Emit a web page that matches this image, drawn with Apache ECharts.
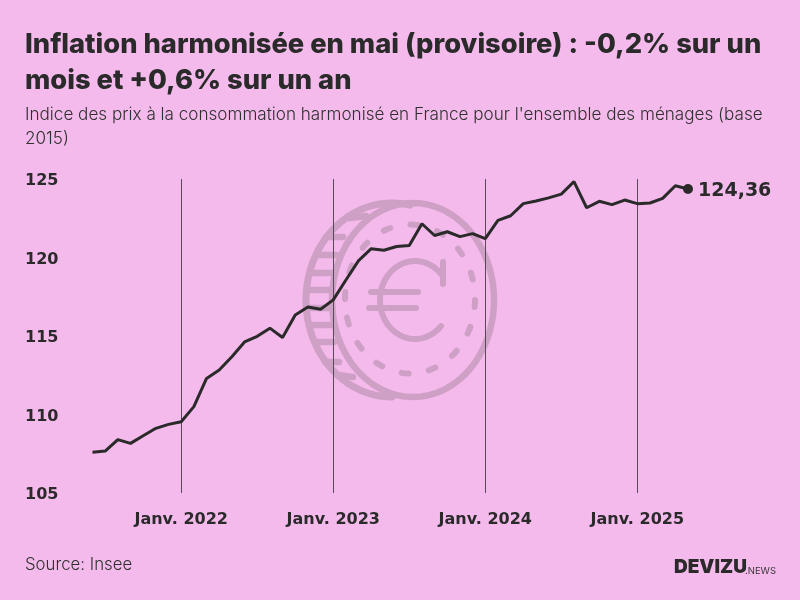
<!DOCTYPE html>
<html>
<head>
    <meta charset="UTF-8">
    <title>Inflation harmonisée</title>
    <script src="https://cdn.jsdelivr.net/npm/echarts@6/dist/echarts.min.js"></script>
    <style>
        html, body { margin: 0; padding: 0; background: #f4baec; }
        #main { width: 800px; height: 600px; }
    </style>
</head>
<body>
    <div id="main"></div>
    <script type="text/javascript">
        var months = [
            '2021-06', '2021-07', '2021-08', '2021-09', '2021-10', '2021-11', '2021-12',
            '2022-01', '2022-02', '2022-03', '2022-04', '2022-05', '2022-06',
            '2022-07', '2022-08', '2022-09', '2022-10', '2022-11', '2022-12',
            '2023-01', '2023-02', '2023-03', '2023-04', '2023-05', '2023-06',
            '2023-07', '2023-08', '2023-09', '2023-10', '2023-11', '2023-12',
            '2024-01', '2024-02', '2024-03', '2024-04', '2024-05', '2024-06',
            '2024-07', '2024-08', '2024-09', '2024-10', '2024-11', '2024-12',
            '2025-01', '2025-02', '2025-03', '2025-04', '2025-05'
        ];
        var indexValues = [
            107.59, 107.67, 108.4, 108.16, 108.65, 109.12, 109.37,
            109.54, 110.5, 112.3, 112.83, 113.68, 114.62,
            114.98, 115.5, 114.9, 116.34, 116.85, 116.7,
            117.3, 118.57, 119.8, 120.56, 120.46, 120.7,
            120.77, 122.15, 121.4, 121.64, 121.33, 121.52,
            121.2, 122.37, 122.66, 123.43, 123.6, 123.8,
            124.04, 124.83, 123.17, 123.58, 123.37, 123.66,
            123.43, 123.47, 123.77, 124.57, 124.36
        ];
        var yearLabels = { '2022-01': 'Janv. 2022', '2023-01': 'Janv. 2023', '2024-01': 'Janv. 2024', '2025-01': 'Janv. 2025' };

        var INK = '#2a2a2a';
        var COIN = '#cfa0c5';
        var LABEL_FONT = '"DejaVu Sans"';
        var TEXT_FONT = 'Inter';

        function isJanuary(index, value) {
            return yearLabels[value] !== undefined;
        }

        // the coin in the background, only decoration
        function arcPoints(cx, cy, rx, ry, from, to) {
            var pts = [];
            for (var a = from; a <= to; a += 3) {
                var r = a * Math.PI / 180;
                pts.push([cx + rx * Math.cos(r), cy + ry * Math.sin(r)]);
            }
            return pts;
        }
        function coinLine(pts, width) {
            return {
                type: 'polyline', z: -1, shape: { points: pts },
                style: { stroke: COIN, fill: null, lineWidth: width, lineCap: 'round', lineJoin: 'round' }
            };
        }
        var ribs = [
            [[350, 218], [366, 216]], [[326, 237], [343, 237]], [[318, 255], [336, 255]],
            [[311, 273], [333, 273]], [[308, 290], [332, 290]], [[307, 308], [332, 308]],
            [[310, 325], [332, 325]], [[315, 342], [334, 342]], [[325, 362], [339, 362]],
            [[338, 375], [353, 377]]
        ];
        var coin = [
            coinLine(arcPoints(413, 300, 81, 97, 0, 360), 6.5),
            coinLine(arcPoints(392, 300, 86, 97, 90, 282), 7),
            {
                type: 'ellipse', z: -1, shape: { cx: 410, cy: 299, rx: 65, ry: 74.5 },
                style: { stroke: COIN, fill: null, lineWidth: 6, lineCap: 'round', lineDash: [7, 20.5] }
            },
            coinLine(arcPoints(415, 300, 35, 39, 42, 322), 6),
            coinLine([[443, 262], [443, 284]], 6),
            coinLine([[371, 292], [418, 292]], 6),
            coinLine([[369, 308], [416, 308]], 6)
        ];
        ribs.forEach(function (r) { coin.push(coinLine(r, 6.5)); });

        var chartData = indexValues.map(function (v, i) {
            if (i < indexValues.length - 1) return v;
            return {
                value: v,
                symbol: 'circle',
                symbolSize: 10,
                itemStyle: { color: INK },
                label: {
                    show: true, position: 'right', distance: 5, offset: [0, 2],
                    formatter: String(v).replace('.', ','),
                    fontFamily: LABEL_FONT, fontWeight: 'bold', fontSize: 19, color: INK
                }
            };
        });

        var myChart = echarts.init(document.getElementById('main'));
        myChart.setOption({
            animation: false,
            backgroundColor: '#f4baec',
            title: [
                {
                    text: 'Inflation harmonisée en mai (provisoire) : -0,2% sur un\nmois et +0,6% sur un an',
                    left: 25, top: 27, padding: 0,
                    textStyle: { fontFamily: TEXT_FONT, fontWeight: 800, fontSize: 27.3, lineHeight: 36, color: INK }
                },
                {
                    text: "Indice des prix à la consommation harmonisé en France pour l'ensemble des ménages (base\n2015)",
                    left: 25, top: 103, padding: 0,
                    textStyle: { fontFamily: TEXT_FONT, fontWeight: 300, fontSize: 17.1, lineHeight: 24, color: '#2f2f2f' }
                },
                {
                    text: 'Source: Insee',
                    left: 25, top: 556, padding: 0,
                    textStyle: { fontFamily: TEXT_FONT, fontWeight: 300, fontSize: 16.8, color: '#2f2f2f' }
                },
                {
                    text: 'DEVIZU',
                    left: 674, top: 558, padding: 0,
                    textStyle: { fontFamily: 'Inter', fontWeight: 900, fontSize: 19, color: INK }
                },
                {
                    text: '.NEWS',
                    left: 745, top: 566, padding: 0,
                    textStyle: { fontFamily: 'Inter', fontWeight: 400, fontSize: 9.5, color: '#3a3a3a' }
                }
            ],
            grid: { left: 92.5, right: 112, top: 179, bottom: 107 },
            xAxis: {
                type: 'category',
                data: months,
                boundaryGap: false,
                axisLine: { show: false },
                axisTick: { show: false },
                axisLabel: {
                    interval: isJanuary,
                    margin: 19,
                    formatter: function (value) { return yearLabels[value] || ''; },
                    fontFamily: LABEL_FONT, fontWeight: 'bold', fontSize: 16, color: INK
                },
                splitLine: {
                    show: true,
                    interval: isJanuary,
                    lineStyle: { color: '#5a4a58', width: 1 }
                }
            },
            yAxis: {
                type: 'value',
                min: 105, max: 125, interval: 5,
                axisLine: { show: false },
                axisTick: { show: false },
                splitLine: { show: false },
                axisLabel: {
                    align: 'left', margin: 67.5, verticalAlign: 'top', lineHeight: 4,
                    fontFamily: LABEL_FONT, fontWeight: 'bold', fontSize: 16, color: INK
                }
            },
            graphic: { elements: coin },
            series: [{
                type: 'line',
                data: chartData,
                symbol: 'none',
                showAllSymbol: true,
                lineStyle: { color: INK, width: 3 },
                itemStyle: { color: INK }
            }]
        });
    </script>
</body>
</html>
